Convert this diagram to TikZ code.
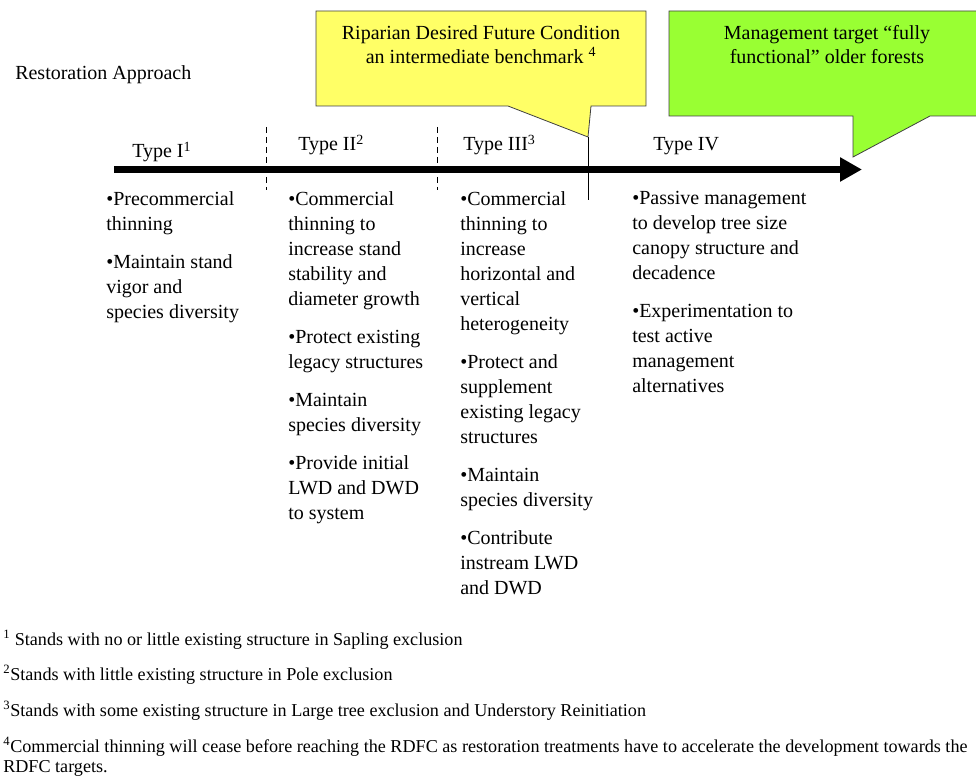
\documentclass[tikz,border=0pt]{standalone}
\usepackage{fontspec}
\setmainfont{Liberation Serif}
\usetikzlibrary{arrows.meta}
\definecolor{callyellow}{RGB}{255,255,102}
\definecolor{callgreen}{RGB}{153,255,51}
\begin{document}
\begin{tikzpicture}[x=0.75pt,y=-0.75pt,
  body/.style={anchor=north west,inner sep=0pt,align=left,font=\fontsize{15}{18.75}\selectfont},
  typelbl/.style={anchor=base west,inner sep=0pt,font=\fontsize{15}{18}\selectfont},
  notelbl/.style={anchor=base west,inner sep=0pt,font=\fontsize{13.6}{15}\selectfont},
  calloutbox/.style={draw=black!75,line width=0.6pt},
  calltext/.style={inner sep=0pt,align=center,font=\fontsize{15}{18}\selectfont},
  sepline/.style={line width=0.75pt,dash pattern=on 4.5pt off 3pt},
  mainarrow/.style={line width=5.25pt,-{Triangle[length=16.5pt,width=17.25pt]}}
]
\useasboundingbox (0,0) rectangle (976,777);

% callouts
\draw[calloutbox,fill=callyellow] (316,11) -- (646,11) -- (646,106) -- (591,106)
  -- (588,137) -- (508,106) -- (316,106) -- cycle;
\coordinate (ytip) at (588,137);
\coordinate (ybot) at (588,200);
\draw[line width=0.75pt] (ytip) -- (ybot);
\node[calltext] (ytext) at (481,45) {Riparian Desired Future Condition\\an intermediate benchmark \textsuperscript{4}};

\draw[calloutbox,fill=callgreen] (669,11) -- (995,11) -- (995,116) -- (930,116)
  -- (853,157) -- (853,116) -- (669,116) -- cycle;
\node[calltext] (gtext) at (827,45) {Management target “fully\\functional” older forests};

% heading
\node[typelbl] (heading) at (15,80) {Restoration Approach};

% separators
\coordinate (s1t) at (266,127); \coordinate (s1b) at (266,190);
\coordinate (s2t) at (437,127); \coordinate (s2b) at (437,190);
\draw[sepline] (s1t) -- (s1b);
\draw[sepline] (s2t) -- (s2b);

% main arrow
\coordinate (astart) at (114,169.5);
\coordinate (aend) at (862,169.5);
\draw[mainarrow] (astart) -- (aend);

% type labels
\node[typelbl] (t1) at (132,158) {Type I\textsuperscript{1}};
\node[typelbl] (t2) at (298,151) {Type II\textsuperscript{2}};
\node[typelbl] (t3) at (463,151) {Type III\textsuperscript{3}};
\node[typelbl] (t4) at (653,151) {Type IV};

% columns
\node[body] (c1) at (106,191) {•Precommercial\\thinning\\[9.75pt]•Maintain stand\\vigor and\\species diversity};
\node[body] (c2) at (288,191) {•Commercial\\thinning to\\increase stand\\stability and\\diameter growth\\[9.75pt]•Protect existing\\legacy structures\\[9.75pt]•Maintain\\species diversity\\[9.75pt]•Provide initial\\LWD and DWD\\to system};
\node[body] (c3) at (460,191) {•Commercial\\thinning to\\increase\\horizontal and\\vertical\\heterogeneity\\[9.75pt]•Protect and\\supplement\\existing legacy\\structures\\[9.75pt]•Maintain\\species diversity\\[9.75pt]•Contribute\\instream LWD\\and DWD};
\node[body] (c4) at (632,191) {•Passive management\\to develop tree size\\canopy structure and\\decadence\\[9.75pt]•Experimentation to\\test active\\management\\alternatives};

% footnotes
\node[notelbl] (n1) at (3,645) {\textsuperscript{1} Stands with no or little existing structure in Sapling exclusion};
\node[notelbl] (n2) at (3,680) {\textsuperscript{2}Stands with little existing structure in Pole exclusion};
\node[notelbl] (n3) at (3,716) {\textsuperscript{3}Stands with some existing structure in Large tree exclusion and Understory Reinitiation};
\node[notelbl] (n4) at (3,752) {\textsuperscript{4}Commercial thinning will cease before reaching the RDFC as restoration treatments have to accelerate the development towards the};
\node[notelbl] (n5) at (3,772) {RDFC targets.};
\end{tikzpicture}
\end{document}
